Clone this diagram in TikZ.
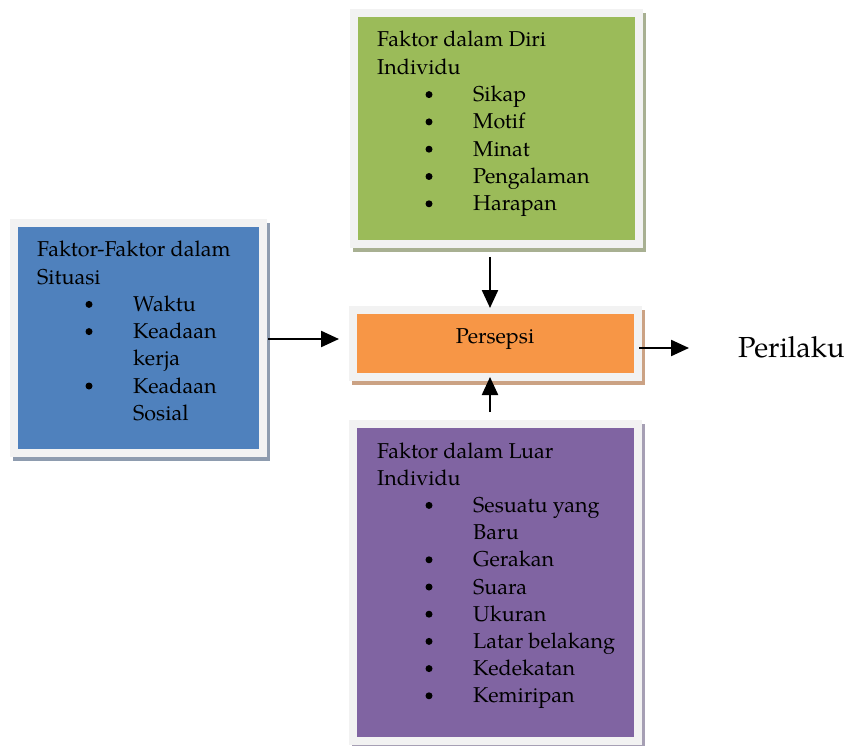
\documentclass[tikz,border=0pt]{standalone}
\usepackage{fontspec}
\setmainfont{TeX Gyre Pagella}
\usetikzlibrary{arrows.meta}
\definecolor{framegray}{HTML}{F2F2F2}
\definecolor{cgreen}{HTML}{9BBB59}
\definecolor{cblue}{HTML}{4F81BD}
\definecolor{corange}{HTML}{F79646}
\definecolor{cpurple}{HTML}{8064A2}
\definecolor{sgreen}{HTML}{A8B092}
\definecolor{sblue}{HTML}{8E9CAF}
\definecolor{sorange}{HTML}{CBA284}
\definecolor{spurple}{HTML}{A69FB4}
\tikzset{
  box/.style={draw=framegray, line width=8pt, inner sep=0pt, minimum width=285pt},
  txt/.style={anchor=base west, inner sep=0pt, font=\fontsize{21.5}{26}\selectfont},
  arr/.style={line width=2.3pt, -{Triangle[length=18pt,width=16pt]}},
  bul/.style={fill=black}
}
\begin{document}
\begin{tikzpicture}[x=1pt,y=-1pt]
\useasboundingbox (0,0) rectangle (849,746);
\fill[white] (0,0) rectangle (849,746);
% shadows
\fill[sgreen] (353,13) rectangle (646,252);
\fill[sblue] (13,223) rectangle (270,461);
\fill[sorange] (352,310) rectangle (645,385);
\fill[spurple] (352,424) rectangle (645,749);
% boxes
\node[box, fill=cgreen, minimum height=231pt] (green) at (496.5,128.5) {};
\node[box, fill=cblue, minimum width=249pt, minimum height=230pt] (blue) at (138.5,338) {};
\node[box, fill=corange, minimum height=67pt] (persepsi) at (495.5,343.5) {};
\node[box, fill=cpurple, minimum height=317pt] (purple) at (495.5,582.5) {};
% green text
\node[txt] (g1) at (377,47) {Faktor dalam Diri};
\node[txt] (g2) at (377,74.3) {Individu};
\foreach \t [count=\i] in {Sikap,Motif,Minat,Pengalaman,Harapan}{
  \pgfmathsetmacro{\yy}{74.3+27.3*\i}
  \node[txt] (gi\i) at (473,\yy) {\t};
  \fill[bul] (429,\yy-7) circle (3.5);
}
% blue text
\node[txt] (b1) at (37,257) {Faktor-Faktor dalam};
\node[txt] (b2) at (37,284.2) {Situasi};
\node[txt] (b3) at (133,311.4) {Waktu};
\node[txt] (b4) at (133,338.6) {Keadaan};
\node[txt] (b5) at (133,365.8) {kerja};
\node[txt] (b6) at (133,393) {Keadaan};
\node[txt] (b7) at (133,420.2) {Sosial};
\fill[bul] (89,304.4) circle (3.5);
\fill[bul] (89,331.6) circle (3.5);
\fill[bul] (89,386) circle (3.5);
% persepsi text
\node[anchor=base, inner sep=0pt, font=\fontsize{21.5}{26}\selectfont] (ptxt) at (495,343) {Persepsi};
% purple text
\node[txt] (p1) at (377,458) {Faktor dalam Luar};
\node[txt] (p2) at (377,485.2) {Individu};
\node[txt] (p3) at (473,512.4) {Sesuatu yang};
\node[txt] (p4) at (473,539.6) {Baru};
\fill[bul] (429,505.4) circle (3.5);
\foreach \t [count=\i] in {Gerakan,Suara,Ukuran,Latar belakang,Kedekatan,Kemiripan}{
  \pgfmathsetmacro{\yy}{539.6+27.2*\i}
  \node[txt] (pi\i) at (473,\yy) {\t};
  \fill[bul] (429,\yy-7) circle (3.5);
}
% Perilaku
\node[anchor=base west, inner sep=0pt, font=\fontsize{29}{33}\selectfont] (perilaku) at (738,357) {Perilaku};
% arrows
\draw[arr] ([xshift=1pt,yshift=-1pt]blue.east) -- ([xshift=-10pt,yshift=4.5pt]persepsi.west);
\draw[arr] ([xshift=-6.5pt,yshift=-9pt]green.south) -- ([xshift=-5.5pt,yshift=-2pt]persepsi.north);
\draw[arr] ([xshift=-5.5pt,yshift=8pt]purple.north) -- ([xshift=-5.5pt,yshift=4pt]persepsi.south);
\draw[arr] ([xshift=-3pt,yshift=-4.5pt]persepsi.east) -- ([xshift=-49pt,yshift=9pt]perilaku.base west);
\end{tikzpicture}
\end{document}
